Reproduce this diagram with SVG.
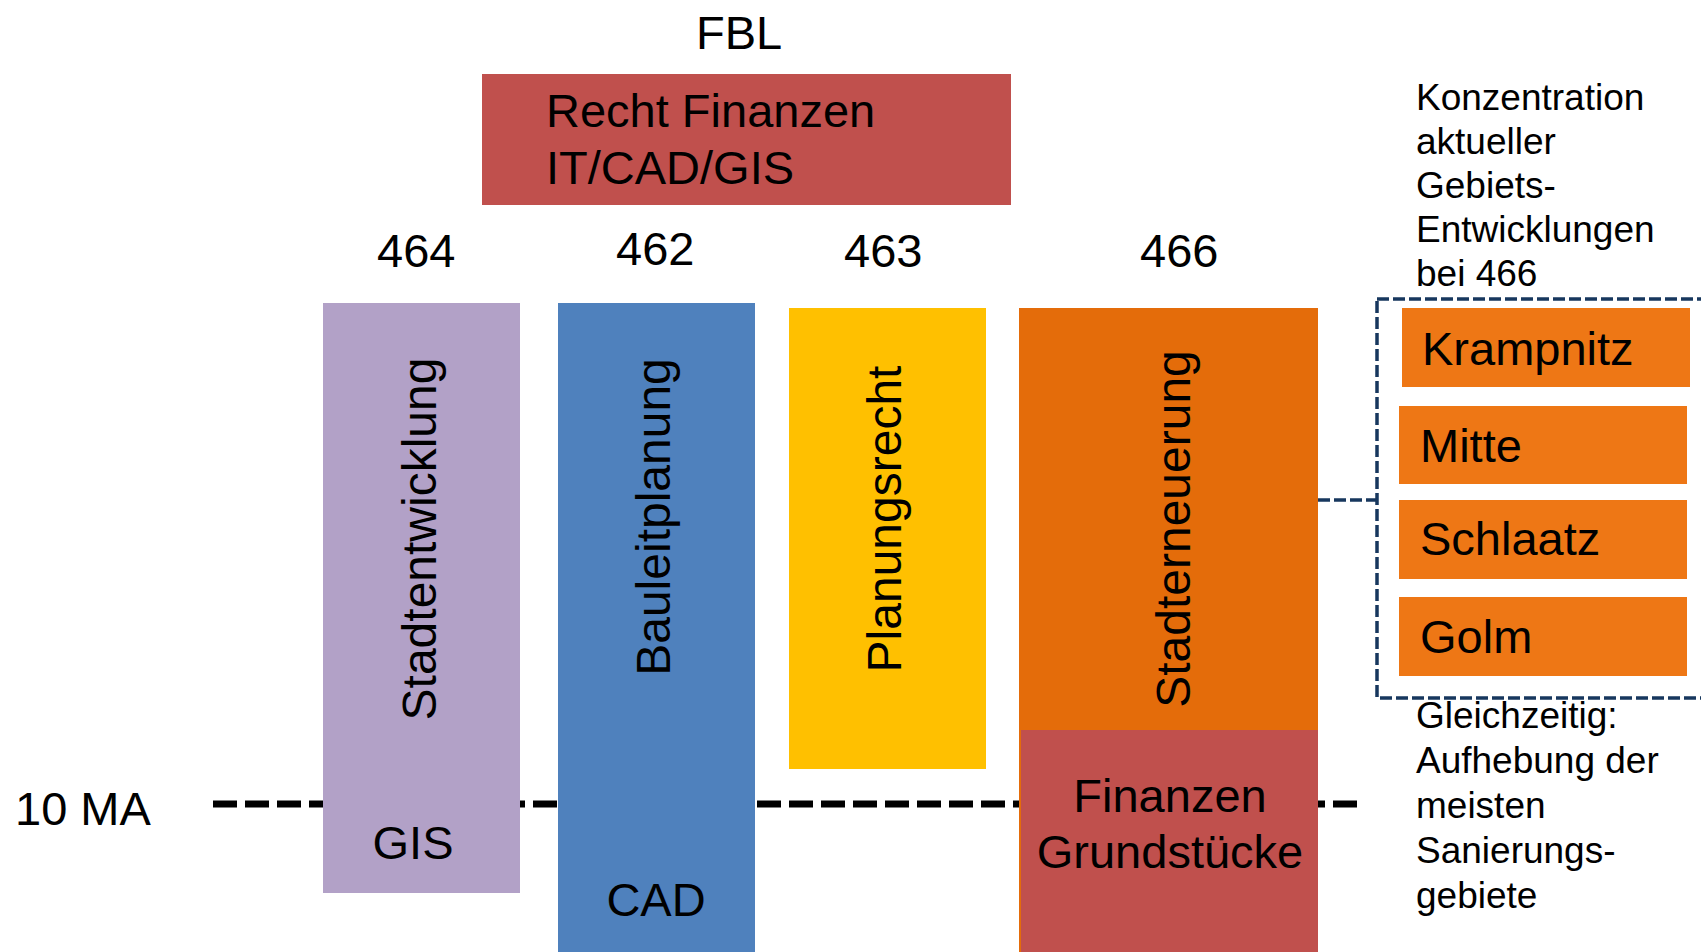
<svg xmlns="http://www.w3.org/2000/svg" width="1701" height="952" viewBox="0 0 1701 952">
<style>
text { font-family: "Liberation Sans", Arial, sans-serif; fill: #000; }
.big { font-size: 47px; }
.rot { font-size: 48px; text-anchor: middle; }
.note { font-size: 37px; }
.mid { text-anchor: middle; }
.dash10 { stroke: #000; stroke-width: 7; stroke-dasharray: 24 8; fill: none; }
.navy { stroke: #17375E; stroke-width: 3.5; stroke-dasharray: 12 4; fill: none; }
.area { fill: #EE7715; }
</style>
<rect width="1701" height="952" fill="#fff"/>
<g id="connectors">
  <line class="dash10" x1="213" y1="804" x2="1357" y2="804"/>
  <line class="navy" x1="1318" y1="500" x2="1377" y2="500"/>
</g>
<g id="fbl">
  <text class="big" x="696" y="49">FBL</text>
  <rect x="482" y="74" width="529" height="131" fill="#C0504D"/>
  <text class="big" x="546" y="127">Recht Finanzen</text>
  <text class="big" x="546" y="184">IT/CAD/GIS</text>
</g>
<g id="n464">
  <text class="big" x="377" y="267">464</text>
  <rect x="323" y="303" width="197" height="590" fill="#B2A1C7"/>
  <text class="rot" transform="translate(436,539) rotate(-90)">Stadtentwicklung</text>
  <text class="big mid" x="413" y="859">GIS</text>
</g>
<g id="n462">
  <text class="big" x="616" y="265">462</text>
  <rect x="558" y="303" width="197" height="649" fill="#4F81BD"/>
  <text class="rot" transform="translate(670,517) rotate(-90)">Bauleitplanung</text>
  <text class="big mid" x="656" y="916">CAD</text>
</g>
<g id="n463">
  <text class="big" x="844" y="267">463</text>
  <rect x="789" y="308" width="197" height="461" fill="#FFC000"/>
  <text class="rot" transform="translate(901,519) rotate(-90)">Planungsrecht</text>
</g>
<g id="n466">
  <text class="big" x="1140" y="267">466</text>
  <rect x="1019" y="308" width="299" height="644" fill="#E46C0A"/>
  <text class="rot" transform="translate(1190,529) rotate(-90)">Stadterneuerung</text>
  <rect x="1021" y="730" width="297" height="222" fill="#C0504D"/>
  <text class="big mid" x="1170" y="812">Finanzen</text>
  <text class="big mid" x="1170" y="868">Grundstücke</text>
</g>
<g id="ma">
  <text class="big" x="15" y="825">10 MA</text>
</g>
<g id="konzentration">
  <text class="note" x="1416" y="110">Konzentration</text>
  <text class="note" x="1416" y="154">aktueller</text>
  <text class="note" x="1416" y="198">Gebiets-</text>
  <text class="note" x="1416" y="242">Entwicklungen</text>
  <text class="note" x="1416" y="286">bei 466</text>
</g>
<g id="gebiete">
  <rect class="navy" x="1377" y="299" width="400" height="399"/>
  <rect class="area" x="1402" y="308" width="288" height="79"/>
  <text class="big" x="1422" y="365">Krampnitz</text>
  <rect class="area" x="1399" y="406" width="288" height="78"/>
  <text class="big" x="1420" y="462">Mitte</text>
  <rect class="area" x="1399" y="500" width="288" height="79"/>
  <text class="big" x="1420" y="555">Schlaatz</text>
  <rect class="area" x="1399" y="597" width="288" height="79"/>
  <text class="big" x="1420" y="653">Golm</text>
</g>
<g id="gleichzeitig">
  <text class="note" x="1416" y="728">Gleichzeitig:</text>
  <text class="note" x="1416" y="773">Aufhebung der</text>
  <text class="note" x="1416" y="818">meisten</text>
  <text class="note" x="1416" y="863">Sanierungs-</text>
  <text class="note" x="1416" y="908">gebiete</text>
</g>
</svg>
